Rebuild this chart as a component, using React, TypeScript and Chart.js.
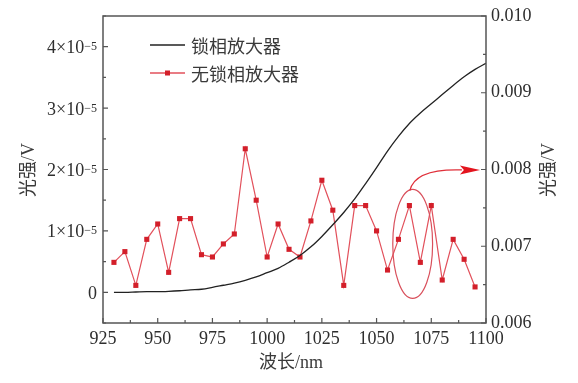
import React, { useEffect, useRef } from 'react';
import { Chart, registerables } from 'chart.js';

Chart.register(...registerables);

// ---- data ----
const WL_LOCKIN = [930, 935, 940, 945, 950, 955, 960, 965, 970, 975, 980, 985, 990, 995, 1000, 1005, 1010, 1015, 1020, 1025, 1030, 1035, 1040, 1045, 1050, 1055, 1060, 1065, 1070, 1075, 1080, 1085, 1090, 1095, 1100];
// values in units of 1e-5 V
const LOCKIN_V_E5 = [0.0, 0.0, 0.005, 0.01, 0.01, 0.015, 0.025, 0.04, 0.05, 0.08, 0.115, 0.15, 0.195, 0.25, 0.32, 0.39, 0.49, 0.6, 0.74, 0.91, 1.1, 1.3, 1.52, 1.77, 2.03, 2.3, 2.54, 2.75, 2.92, 3.07, 3.22, 3.37, 3.51, 3.63, 3.73];

const WL_NOLOCK = [930, 935, 940, 945, 950, 955, 960, 965, 970, 975, 980, 985, 990, 995, 1000, 1005, 1010, 1015, 1020, 1025, 1030, 1035, 1040, 1045, 1050, 1055, 1060, 1065, 1070, 1075, 1080, 1085, 1090, 1095];
const NOLOCK_V = [0.00679, 0.00693, 0.00649, 0.00709, 0.00729, 0.00666, 0.00736, 0.00736, 0.00689, 0.00686, 0.00703, 0.00716, 0.00827, 0.0076, 0.00686, 0.00729, 0.00696, 0.00686, 0.00733, 0.00786, 0.00747, 0.00649, 0.00753, 0.00753, 0.0072, 0.00669, 0.00709, 0.00753, 0.00679, 0.00753, 0.00656, 0.00709, 0.00683, 0.00647];

const SERIES_LABELS = ['锁相放大器', '无锁相放大器'];
const X_TICKS = [925, 950, 975, 1000, 1025, 1050, 1075, 1100];
const LEFT_TICKS_E5 = [0, 1, 2, 3, 4];
const RIGHT_TICKS = [0.006, 0.007, 0.008, 0.009, 0.01];
const X_TITLE = '波长/nm';
const Y_TITLE = '光强/V';

// annotation (ellipse + arrow) in data coordinates (x nm, right-axis V)
const ELLIPSE_CENTER = [1066.5, 0.00703];
const ELLIPSE_RADII = [9.1, 0.00071];
const ARROW_START = [1065.2, 0.007725];
const ARROW_CTRL = [1067.5, 0.008015];
const ARROW_BASE = [1089, 0.007995];
const ARROW_TIP = [1097.3, 0.007995];

const SERIF = '"Liberation Serif", "Noto Sans CJK SC", serif';
const FRAME = '#555555';
const TEXT = '#2e2e2e';
const RED_LINE = '#e2505b';
const RED_PT = '#d31f2a';

const decorPlugin = {
  id: 'decor',
  afterDatasetsDraw(chart: any) {
    const { ctx, chartArea: ca, scales } = chart;
    const xs = scales.x, yl = scales.y, yr = scales.y2;
    ctx.save();

    // frame
    ctx.strokeStyle = FRAME;
    ctx.lineWidth = 1.5;
    ctx.strokeRect(ca.left, ca.top, ca.right - ca.left, ca.bottom - ca.top);

    // inward ticks
    ctx.lineWidth = 1.2;
    ctx.beginPath();
    for (let i = 0; i < X_TICKS.length; i++) {
      const px = xs.getPixelForValue(X_TICKS[i]);
      ctx.moveTo(px, ca.bottom); ctx.lineTo(px, ca.bottom - 5);
      if (i < X_TICKS.length - 1) {
        const mx = xs.getPixelForValue((X_TICKS[i] + X_TICKS[i + 1]) / 2);
        ctx.moveTo(mx, ca.bottom); ctx.lineTo(mx, ca.bottom - 3);
      }
    }
    for (let i = 0; i < LEFT_TICKS_E5.length; i++) {
      const py = yl.getPixelForValue(LEFT_TICKS_E5[i] * 1e-5);
      ctx.moveTo(ca.left, py); ctx.lineTo(ca.left + 5, py);
      const my = yl.getPixelForValue((LEFT_TICKS_E5[i] - 0.5) * 1e-5);
      ctx.moveTo(ca.left, my); ctx.lineTo(ca.left + 3, my);
    }
    const myTop = yl.getPixelForValue((LEFT_TICKS_E5[LEFT_TICKS_E5.length - 1] + 0.5) * 1e-5);
    ctx.moveTo(ca.left, myTop); ctx.lineTo(ca.left + 3, myTop);
    for (let i = 0; i < RIGHT_TICKS.length; i++) {
      const py = yr.getPixelForValue(RIGHT_TICKS[i]);
      ctx.moveTo(ca.right, py); ctx.lineTo(ca.right - 5, py);
      if (i < RIGHT_TICKS.length - 1) {
        const my = yr.getPixelForValue((RIGHT_TICKS[i] + RIGHT_TICKS[i + 1]) / 2);
        ctx.moveTo(ca.right, my); ctx.lineTo(ca.right - 3, my);
      }
    }
    ctx.stroke();

    // left tick labels with superscripts
    ctx.fillStyle = TEXT;
    ctx.textBaseline = 'alphabetic';
    ctx.textAlign = 'right';
    const labelRight = ca.left - 6;
    for (const v of LEFT_TICKS_E5) {
      const py = yl.getPixelForValue(v * 1e-5);
      if (v === 0) {
        ctx.font = '18px ' + SERIF;
        ctx.fillText('0', labelRight, py + 6.5);
      } else {
        const sup = '−5';
        ctx.font = '12px ' + SERIF;
        const wSup = ctx.measureText(sup).width;
        ctx.fillText(sup, labelRight, py + 3.5);
        ctx.font = '18px ' + SERIF;
        ctx.fillText(v + '×10', labelRight - wSup, py + 6.5);
      }
    }

    // axis titles
    ctx.fillStyle = '#3a3a3a';
    ctx.font = '18px ' + SERIF;
    ctx.textAlign = 'center';
    ctx.textBaseline = 'middle';
    ctx.fillText(X_TITLE, 291, 363);
    ctx.save();
    ctx.translate(29, 170);
    ctx.rotate(-Math.PI / 2);
    ctx.fillText(Y_TITLE, 0, 0);
    ctx.restore();
    ctx.save();
    ctx.translate(549, 170);
    ctx.rotate(-Math.PI / 2);
    ctx.fillText(Y_TITLE, 0, 0);
    ctx.restore();

    // legend
    ctx.textAlign = 'left';
    ctx.font = '18px "Noto Sans CJK SC", sans-serif';
    ctx.strokeStyle = '#222';
    ctx.lineWidth = 1.3;
    ctx.beginPath(); ctx.moveTo(150, 45); ctx.lineTo(185, 45); ctx.stroke();
    ctx.fillStyle = '#3a3a3a';
    ctx.fillText(SERIES_LABELS[0], 191, 46.5);
    ctx.strokeStyle = RED_LINE;
    ctx.beginPath(); ctx.moveTo(150, 73); ctx.lineTo(185, 73); ctx.stroke();
    ctx.fillStyle = RED_PT;
    ctx.fillRect(165, 70.5, 5, 5);
    ctx.fillStyle = '#3a3a3a';
    ctx.fillText(SERIES_LABELS[1], 191, 74.5);

    // ellipse
    const cx = xs.getPixelForValue(ELLIPSE_CENTER[0]);
    const cy = yr.getPixelForValue(ELLIPSE_CENTER[1]);
    const rx = xs.getPixelForValue(ELLIPSE_CENTER[0] + ELLIPSE_RADII[0]) - cx;
    const ry = cy - yr.getPixelForValue(ELLIPSE_CENTER[1] + ELLIPSE_RADII[1]);
    ctx.strokeStyle = '#d9505c';
    ctx.lineWidth = 1.2;
    ctx.beginPath();
    ctx.ellipse(cx, cy, rx, ry, 0, 0, Math.PI * 2);
    ctx.stroke();

    // arrow
    const p = (d: number[]) => [xs.getPixelForValue(d[0]), yr.getPixelForValue(d[1])];
    const s = p(ARROW_START), c = p(ARROW_CTRL), b = p(ARROW_BASE), t = p(ARROW_TIP);
    ctx.strokeStyle = '#e0303a';
    ctx.beginPath();
    ctx.moveTo(s[0], s[1]);
    ctx.quadraticCurveTo(c[0], c[1], b[0], b[1]);
    ctx.stroke();
    ctx.fillStyle = '#e3141e';
    ctx.beginPath();
    ctx.moveTo(t[0], t[1]);
    ctx.lineTo(b[0] - 2, b[1] - 4.5);
    ctx.lineTo(b[0] + 2, b[1]);
    ctx.lineTo(b[0] - 2, b[1] + 4.5);
    ctx.closePath();
    ctx.fill();

    ctx.restore();
  },
};

export default function App() {
  const ref = useRef<HTMLCanvasElement | null>(null);
  useEffect(() => {
    if (!ref.current) return;
    const chart = new Chart(ref.current, {
      type: 'line',
      data: {
        datasets: [
          {
            label: SERIES_LABELS[0],
            data: WL_LOCKIN.map((x, i) => ({ x, y: LOCKIN_V_E5[i] * 1e-5 })),
            borderColor: '#222222',
            borderWidth: 1.3,
            pointRadius: 0,
            yAxisID: 'y',
            cubicInterpolationMode: 'monotone',
          },
          {
            label: SERIES_LABELS[1],
            data: WL_NOLOCK.map((x, i) => ({ x, y: NOLOCK_V[i] })),
            borderColor: RED_LINE,
            borderWidth: 1.2,
            pointStyle: 'rect',
            pointRadius: 3.6,
            pointBackgroundColor: RED_PT,
            pointBorderColor: RED_PT,
            pointBorderWidth: 0,
            yAxisID: 'y2',
            tension: 0,
          },
        ],
      },
      options: {
        animation: false,
        responsive: false,
        devicePixelRatio: 1,
        layout: { padding: { top: 16, left: 0, right: 0, bottom: 0 } },
        plugins: { legend: { display: false }, tooltip: { enabled: false } },
        scales: {
          x: {
            type: 'linear',
            min: 925,
            max: 1100,
            afterBuildTicks: (s: any) => { s.ticks = X_TICKS.map((v) => ({ value: v })); },
            ticks: { font: { family: SERIF, size: 18 }, color: TEXT, padding: 5, maxRotation: 0, autoSkip: false, callback: (v: any) => String(v) },
            grid: { display: false, drawTicks: false },
            border: { display: false },
            afterFit: (s: any) => { s.height = 60; },
          },
          y: {
            type: 'linear',
            position: 'left',
            min: -0.5e-5,
            max: 4.5e-5,
            ticks: { display: false },
            grid: { display: false, drawTicks: false },
            border: { display: false },
            afterFit: (s: any) => { s.width = 103; },
          },
          y2: {
            type: 'linear',
            position: 'right',
            min: 0.006,
            max: 0.01,
            afterBuildTicks: (s: any) => { s.ticks = RIGHT_TICKS.map((v) => ({ value: v })); },
            ticks: { font: { family: SERIF, size: 18 }, color: TEXT, padding: 5, callback: (v: any) => Number(v).toFixed(3) },
            grid: { display: false, drawTicks: false },
            border: { display: false },
            afterFit: (s: any) => { s.width = 92; },
          },
        },
      },
      plugins: [decorPlugin],
    } as any);
    return () => chart.destroy();
  }, []);
  return (
    <div style={{ position: 'absolute', left: 0, top: 0, width: 578, height: 383, background: '#fff' }}>
      <canvas ref={ref} width={578} height={383} style={{ width: 578, height: 383, display: 'block' }} />
    </div>
  );
}
